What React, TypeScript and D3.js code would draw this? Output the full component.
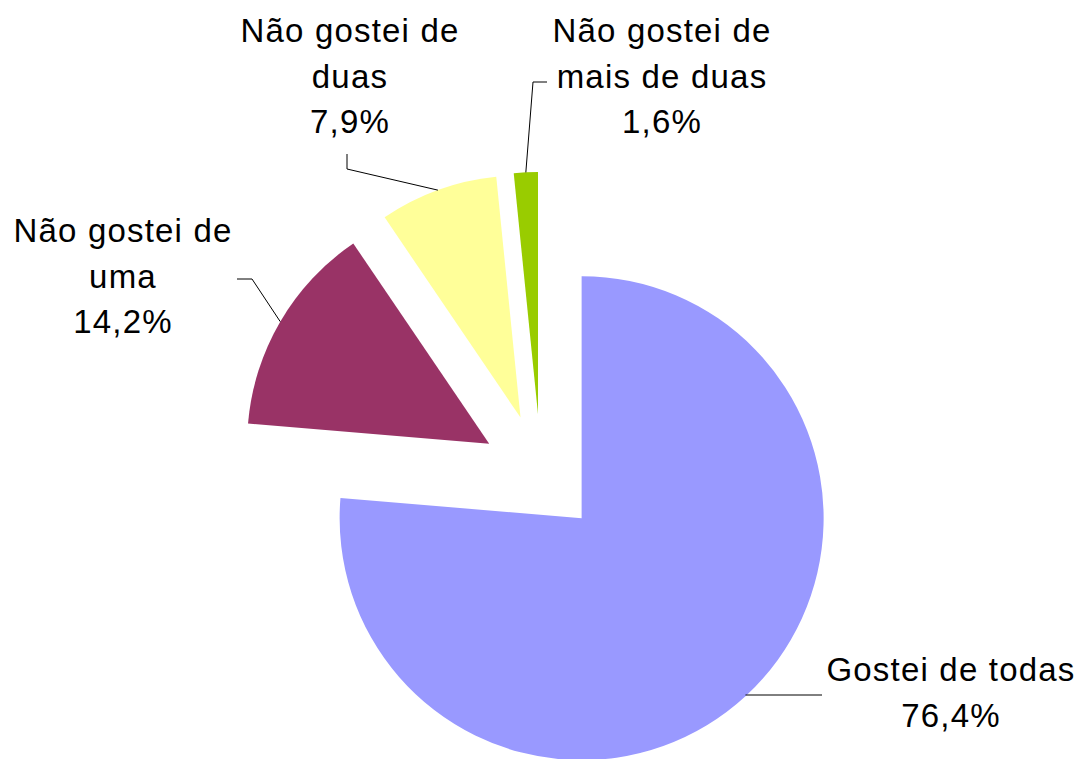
import React from "react";
import * as d3 from "d3";

const categories = [
  "Gostei de todas",
  "Não gostei de uma",
  "Não gostei de duas",
  "Não gostei de mais de duas",
];
const values = [76.4, 14.2, 7.9, 1.6];
const valueLabels = ["76,4%", "14,2%", "7,9%", "1,6%"];
const labelLines = [
  ["Gostei de todas", "76,4%"],
  ["Não gostei de", "uma", "14,2%"],
  ["Não gostei de", "duas", "7,9%"],
  ["Não gostei de", "mais de duas", "1,6%"],
];
const colors = ["#9999FF", "#993366", "#FFFF99", "#99CC00"];

// label placement (text centre x, first baseline y) and leader elbows
const labelLayout = [
  { x: 951, y: 681, elbow: null, end: [822, 695] },
  { x: 123, y: 242, elbow: [252, 279], end: [237, 279] },
  { x: 350, y: 42, elbow: [347, 169], end: [347, 154] },
  { x: 662, y: 42, elbow: [533, 82], end: [547, 82] },
];

const width = 1080;
const height = 759;
const cx = 541;
const cy = 474;
const radius = 242;
const explode = 60;
const lineGap = 45.5;

const App = () => {
  const data = categories.map((c, i) => ({ name: c, value: values[i], i }));
  const pie = d3
    .pie<any>()
    .sort(null)
    .value((d) => d.value)
    .startAngle(0)
    .endAngle(2 * Math.PI);
  const arcs = pie(data);
  const arc = d3.arc<any>().innerRadius(0).outerRadius(radius);

  return (
    <svg
      width={width}
      height={height}
      style={{ position: "absolute", left: 0, top: 0, background: "#fff" }}
    >
      <g transform={`translate(${cx},${cy})`}>
        {arcs.map((a, i) => {
          const mid = (a.startAngle + a.endAngle) / 2;
          const ox = explode * Math.sin(mid);
          const oy = -explode * Math.cos(mid);
          return (
            <path
              key={categories[i]}
              d={arc(a) as string}
              transform={`translate(${ox},${oy})`}
              fill={colors[i]}
            />
          );
        })}
      </g>
      {arcs.map((a, i) => {
        const mid = (a.startAngle + a.endAngle) / 2;
        const px = cx + (explode + radius) * Math.sin(mid);
        const py = cy - (explode + radius) * Math.cos(mid);
        const lay = labelLayout[i];
        const pts: number[][] = [[px, py]];
        if (lay.elbow) pts.push(lay.elbow);
        else pts[0] = [px, lay.end[1]];
        pts.push(lay.end);
        const line = d3.line()(pts as [number, number][]);
        return (
          <path
            key={"l" + i}
            d={line as string}
            fill="none"
            stroke="#000"
            strokeWidth={1}
          />
        );
      })}
      {labelLayout.map((lay, i) => (
        <text
          key={"t" + i}
          x={lay.x}
          y={lay.y}
          textAnchor="middle"
          fontFamily="'Liberation Sans', Arial, sans-serif"
          fontSize={33}
          letterSpacing={1.2}
          fill="#000"
        >
          {labelLines[i].map((s, j) => (
            <tspan key={j} x={lay.x} y={lay.y + j * lineGap}>
              {s}
            </tspan>
          ))}
        </text>
      ))}
    </svg>
  );
};

export default App;
